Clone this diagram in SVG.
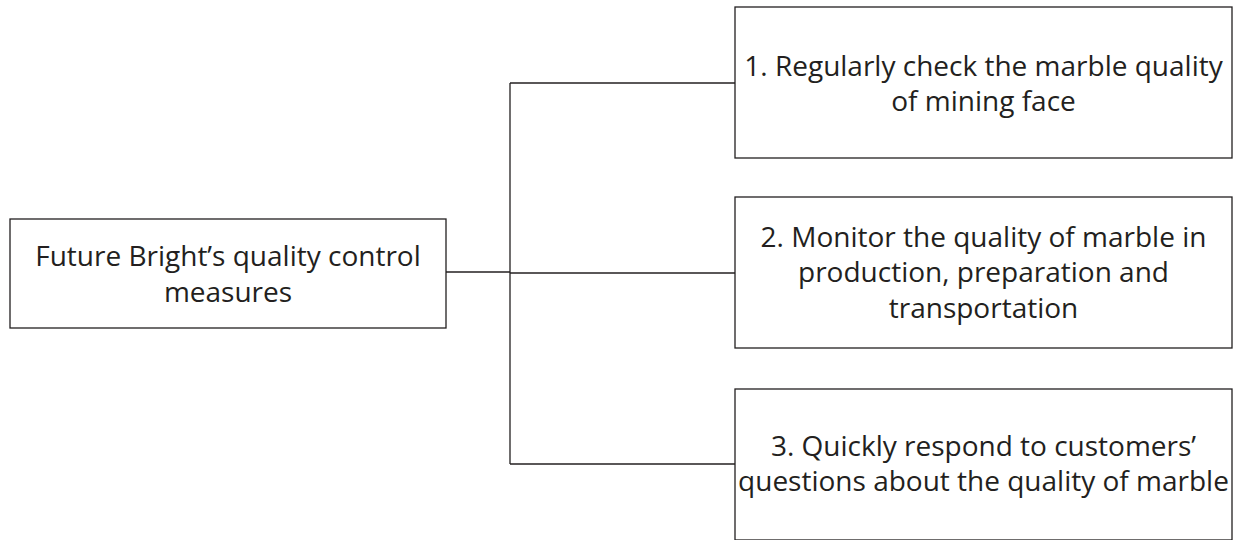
<svg xmlns="http://www.w3.org/2000/svg" width="1239" height="540" viewBox="0 0 1239 540">
  <style>
    .box { fill: #ffffff; stroke: #231f20; stroke-width: 1.3; }
    .wire { fill: none; stroke: #231f20; stroke-width: 1.3; }
    .label { font-family: "Open Sans", "Liberation Sans", sans-serif; font-size: 28px; fill: #231f20; text-anchor: middle; }
  </style>
  <rect width="1239" height="540" fill="#ffffff"/>

  <!-- connectors: root to the bracket, bracket to each measure -->
  <g id="connectors">
    <path class="wire" d="M446 272 H510"/>
    <path class="wire" d="M510 83 V464"/>
    <path class="wire" d="M510 83 H735"/>
    <path class="wire" d="M510 273 H735"/>
    <path class="wire" d="M510 464 H735"/>
  </g>

  <g id="root">
    <rect class="box" x="10" y="219" width="436" height="109"/>
    <text class="label" x="228" y="266">Future Bright’s quality control</text>
    <text class="label" x="228" y="301.5">measures</text>
  </g>

  <g id="measure-1">
    <rect class="box" x="735" y="7" width="497" height="151"/>
    <text class="label" x="983.5" y="76">1. Regularly check the marble quality</text>
    <text class="label" x="983.5" y="111">of mining face</text>
  </g>

  <g id="measure-2">
    <rect class="box" x="735" y="197" width="497" height="151"/>
    <text class="label" x="983.5" y="246.5">2. Monitor the quality of marble in</text>
    <text class="label" x="983.5" y="282">production, preparation and</text>
    <text class="label" x="983.5" y="317.5">transportation</text>
  </g>

  <g id="measure-3">
    <rect class="box" x="735" y="389" width="497" height="151"/>
    <text class="label" x="983.5" y="455.5">3. Quickly respond to customers’</text>
    <text class="label" x="983.5" y="491">questions about the quality of marble</text>
  </g>
</svg>
